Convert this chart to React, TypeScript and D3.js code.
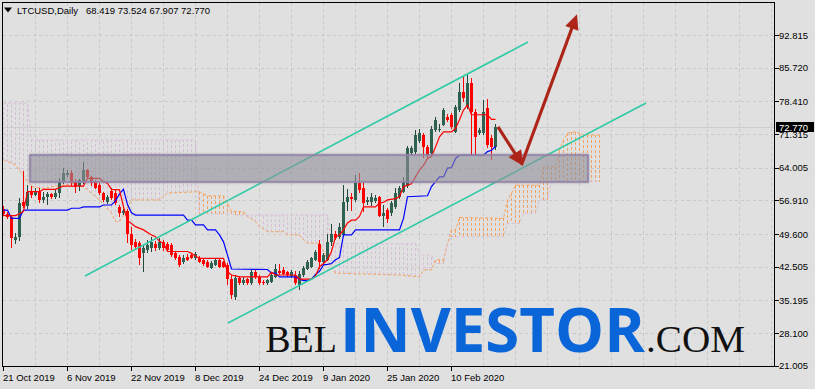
import React from "react";
import * as d3 from "d3";

// ---------- data ----------
const START = "2019-10-21";
const opens = [55.0,54.0,53.3,48.2,48.9,56.6,55.6,59.0,58.1,59.0,56.9,57.6,58.2,57.6,58.5,61.0,62.4,62.8,60.9,60.0,61.2,63.4,61.9,60.8,60.2,58.4,56.6,59.0,58.6,55.5,54.1,54.5,49.7,47.9,47.6,45.4,46.1,46.5,47.4,46.6,47.9,47.4,47.2,45.4,44.7,43.5,44.7,45.0,44.3,44.3,43.9,43.6,42.3,42.9,43.9,43.5,42.9,39.8,36.0,40.0,38.9,39.8,38.9,41.3,40.3,39.2,38.9,39.2,40.3,41.5,41.7,41.3,40.4,40.7,38.5,40.7,42.1,42.5,44.0,47.5,43.6,44.0,47.9,49.7,48.9,49.4,56.6,57.7,57.0,60.6,59.5,56.6,56.6,56.8,57.6,53.6,54.8,54.1,55.5,57.7,58.8,60.0,67.1,67.5,69.7,71.1,68.6,67.1,72.2,72.2,73.3,75.1,75.4,71.8,76.5,80.5,77.2,82.3,76.2,71.5,71.6,77.0,70.4,68.419];
const highs = [55.6,54.4,53.8,49.9,57.5,63.2,60.2,60.0,59.5,59.5,58.7,58.7,58.6,59.4,61.8,64.0,63.5,63.5,61.5,61.5,65.3,63.8,62.2,61.4,60.6,58.8,58.0,59.5,59.2,55.8,55.0,55.0,51.2,48.5,48.0,47.2,48.3,49.0,48.0,48.7,48.2,47.8,47.6,45.8,45.0,45.0,45.2,45.4,45.8,44.8,44.2,43.9,43.8,44.4,44.2,43.8,43.2,40.8,40.7,40.5,40.2,40.1,41.8,41.8,40.8,39.6,39.9,41.0,43.0,43.0,42.5,41.6,41.8,41.5,41.6,42.6,44.0,44.7,46.2,48.4,45.4,49.5,51.7,50.3,52.0,60.2,59.3,58.5,62.4,62.8,61.0,57.6,58.5,58.0,57.9,55.8,55.2,56.8,59.5,60.0,62.0,68.8,68.7,72.2,72.5,71.6,69.0,73.0,75.1,73.5,77.0,75.6,75.8,77.6,82.3,83.8,84.2,83.4,76.8,72.6,78.7,79.0,71.0,73.524];
const lows = [53.6,52.8,46.5,47.5,48.0,55.2,55.0,57.5,57.8,56.3,56.3,56.0,57.2,57.3,57.5,60.5,62.0,60.0,58.5,59.0,60.5,61.5,60.0,59.3,58.0,56.5,56.2,57.0,55.8,53.4,53.8,47.6,46.1,46.3,42.9,41.4,45.4,45.8,46.0,46.2,46.0,45.8,44.6,44.0,42.5,43.0,43.8,44.1,43.9,43.2,42.7,42.2,42.0,42.6,42.2,42.2,38.5,35.5,35.2,38.5,38.6,38.6,38.6,39.8,38.5,38.6,38.6,38.9,40.0,40.8,40.6,40.2,40.1,38.5,37.5,40.3,41.8,42.2,43.7,42.0,43.1,43.7,46.9,48.2,48.5,49.0,54.7,54.5,56.6,58.6,54.3,56.0,55.7,56.4,53.2,51.2,52.0,53.6,55.1,57.3,58.5,59.5,66.5,67.0,69.3,66.0,66.0,66.7,71.8,71.8,73.0,74.0,72.5,71.5,76.2,78.3,76.8,66.8,66.8,71.0,71.0,68.2,65.7,67.907];
const closes = [54.0,53.3,48.7,49.0,56.3,55.6,58.8,58.1,59.0,56.9,57.6,58.2,57.6,58.5,61.0,62.8,62.9,60.7,59.9,61.3,63.4,61.9,60.6,59.7,58.4,57.0,57.6,57.4,56.3,54.1,54.6,49.5,47.2,46.8,44.3,46.5,47.2,47.9,46.5,47.9,46.5,46.1,45.0,44.3,42.9,44.5,44.0,44.5,45.2,43.5,43.0,42.5,43.4,44.0,42.5,42.5,39.8,36.3,40.0,38.9,39.6,38.9,41.4,40.2,39.0,38.9,39.6,40.7,42.1,41.1,41.0,40.6,41.4,38.9,41.0,42.2,43.6,44.3,45.8,43.6,45.0,47.9,49.7,48.7,51.2,56.6,57.7,57.2,60.6,59.1,56.3,57.0,57.7,57.4,53.6,54.2,52.9,56.3,58.4,59.5,61.0,68.2,68.2,71.1,71.5,68.6,66.8,72.5,74.4,72.5,76.5,74.4,72.9,77.2,80.5,79.1,82.3,76.2,70.7,72.2,76.0,69.0,68.42,72.77];

// Ichimoku lines: [bar, price]
const tenkan = [[0,53.6],[3,53.6],[4,54.0],[5,54.5],[6,58.8],[9,58.8],[10,59.3],[13,59.3],[14,59.7],[15,60.0],[20,60.0],[21,61.7],[24,61.7],[25,61.0],[26,60.6],[27,59.3],[29,59.2],[30,55.5],[31,52.5],[32,51.9],[33,51.2],[35,50.5],[37,49.4],[38,49.0],[39,48.0],[40,47.6],[41,45.8],[46,45.8],[47,45.4],[49,44.3],[55,44.3],[56,41.4],[57,40.7],[58,40.5],[59,40.3],[66,40.3],[67,41.3],[68,40.7],[73,40.7],[74,39.8],[77,39.8],[78,40.5],[79,42.5],[80,43.2],[81,44.0],[82,45.8],[83,49.0],[84,49.4],[85,50.5],[86,52.0],[87,52.6],[88,52.6],[89,53.4],[90,55.5],[93,55.5],[94,56.3],[95,56.5],[96,57.0],[98,57.3],[99,57.7],[100,59.9],[102,60.5],[103,62.0],[104,63.5],[105,64.5],[106,66.0],[107,66.4],[108,68.5],[109,70.7],[110,71.8],[112,71.8],[113,72.5],[114,74.4],[115,76.5],[116,77.6],[117,75.5],[121,75.5],[122,74.5],[123,74.5]];
const kijun = [[0,54.8],[1,54.8],[2,53.0],[4,53.0],[5,54.8],[16,54.8],[17,55.2],[19,55.2],[20,55.5],[24,55.5],[25,55.9],[27,55.9],[28,56.8],[29,58.3],[30,59.3],[31,56.0],[32,54.2],[33,53.7],[45,53.7],[46,52.6],[47,52.6],[48,51.6],[50,51.6],[51,50.5],[53,50.5],[54,49.4],[55,47.9],[56,45.0],[57,42.0],[66,41.9],[67,41.1],[68,41.1],[69,40.3],[73,40.3],[74,39.8],[75,39.5],[76,39.5],[77,39.8],[78,40.8],[79,41.5],[80,42.9],[81,43.0],[82,43.2],[83,44.0],[84,44.5],[85,49.4],[87,49.4],[88,50.5],[99,50.5],[100,53.0],[101,57.7],[106,57.9],[107,59.9],[108,61.0],[109,62.0],[110,62.0],[111,63.9],[112,64.0],[113,66.0],[114,66.7],[120,66.7],[121,67.5],[122,67.8],[123,68.6]];
const spanA = [[0,65.7],[3,64.6],[4,63.5],[6,61.0],[7,59.9],[10,59.5],[13,60.0],[18,60.6],[20,59.9],[22,58.4],[24,57.0],[27,54.1],[28,52.3],[29,52.3],[30,53.7],[32,57.0],[39,57.0],[41,58.5],[49,58.8],[51,57.9],[55,57.9],[57,54.5],[60,54.45],[61,53.4],[63,52.3],[64,51.2],[66,50.1],[70,50.1],[71,49.4],[74,49.4],[75,48.3],[76,47.6],[79,47.6],[81,44.0],[83,41.1],[99,40.7],[104,40.3],[105,41.8],[107,41.8],[108,44.0],[110,44.0],[111,47.5],[112,50.5],[113,50.5],[114,53.2],[125,53.0],[126,57.0],[127,58.4],[128,60.2],[134,60.2],[135,64.2],[138,64.2],[139,67.8],[140,70.0],[141,71.5],[143,71.8],[145,71.1],[149,71.1]];
const spanB = [[0,78.0],[6,78.0],[7,70.0],[48,70.0],[49,54.0],[57,54.0],[58,53.7],[81,53.7],[82,47.5],[102,47.5],[103,47.6],[104,45.0],[107,45.0],[108,43.2],[110,43.2],[111,47.6],[112,49.0],[125,49.0],[126,51.9],[129,51.9],[130,54.1],[133,54.1],[134,57.0],[136,57.0],[137,61.0],[149,61.0]];

const priceTicks = [92.815, 85.72, 78.41, 71.315, 64.005, 56.91, 49.6, 42.505, 35.195, 28.1, 21.005];
const priceTickLabels = ["92.815","85.720","78.410","71.315","64.005","56.910","49.600","42.505","35.195","28.100","21.005"];
const dateTicks = ["2019-10-21","2019-11-06","2019-11-22","2019-12-08","2019-12-24","2020-01-09","2020-01-25","2020-02-10"];
const dateTickLabels = ["21 Oct 2019","6 Nov 2019","22 Nov 2019","8 Dec 2019","24 Dec 2019","9 Jan 2020","25 Jan 2020","10 Feb 2020"];
const symbolLabel = "LTCUSD,Daily";
const lastBarValues = ["68.419","73.524","67.907","72.770"];
const lastPrice = 72.77;
const lastPriceLabel = "72.770";

// annotations in [bar, price]
const zoneBars = [6.75, 146.25];
const zonePrices = [60.9, 66.76];
const channelUpper = [[20.5, 40.5], [131.25, 91.3]];
const channelLower = [[56.25, 30.27], [160.75, 78.05]];
const arrowDown = [[123.75, 72.84], [130, 64.4]];
const arrowUp = [[129.6, 64.6], [143.5, 97.3]];

const watermark = ["BEL", "INVESTOR", ".COM"];

function arrow(p0: number[], p1: number[], headLen: number, headHalf: number) {
  const dx = p1[0] - p0[0], dy = p1[1] - p0[1];
  const len = Math.hypot(dx, dy);
  const ux = dx / len, uy = dy / len;
  const bx = p1[0] - ux * headLen, by = p1[1] - uy * headLen;
  const px = -uy, py = ux;
  return {
    shaft: [p0[0], p0[1], bx + ux * 2, by + uy * 2],
    head: `M${p1[0]},${p1[1]}L${bx + px * headHalf},${by + py * headHalf}L${bx - px * headHalf},${by - py * headHalf}Z`,
  };
}

export default function App() {
  const W = 815, H = 389;
  const L = 2.5, R = 774.5, T = 2.5, B = 366.5;
  const x = d3.scaleLinear().domain([0, 1]).range([3, 7]);
  const y = d3.scaleLinear().domain([21.005, 92.815]).range([365.7, 35]);
  const parse = d3.timeParse("%Y-%m-%d");
  const start = parse(START)!;
  const tickBars = dateTicks.map((d) => d3.timeDay.count(start, parse(d)!));

  const font = "'Liberation Sans', Arial, sans-serif";
  const lineGen = d3.line<number[]>().x((d) => x(d[0]) + 0.5).y((d) => y(d[1]));

  const aScale = d3.scaleLinear().domain(spanA.map((d) => d[0])).range(spanA.map((d) => d[1]));
  const bScale = d3.scaleLinear().domain(spanB.map((d) => d[0])).range(spanB.map((d) => d[1]));
  const cloudBars = d3.range(0, spanA[spanA.length - 1][0] + 1);

  const vGrid = d3.range(8, 200, 8).map((b) => x(b)).filter((v) => v < R - 2);

  const px = (p: number[]) => [x(p[0]), y(p[1])];
  const aDown = arrow(px(arrowDown[0]), px(arrowDown[1]), 15, 7.5);
  const aUp = arrow(px(arrowUp[0]), px(arrowUp[1]), 15, 7);

  const bull = "#2f6150";
  const bullWick = "#24463b";
  const bear = "#ff0000";
  const arrowColor = "#ad2519";
  const yLast = Math.round(y(lastPrice));

  return (
    <svg width={W} height={H} style={{ position: "absolute", left: 0, top: 0, display: "block" }}>
      <defs>
        <clipPath id="plot">
          <rect x={L + 0.5} y={T + 0.5} width={R - L - 1} height={B - T - 1} />
        </clipPath>
        <filter id="shadow" x="-5%" y="-30%" width="110%" height="160%">
          <feDropShadow dx="0" dy="0" stdDeviation="1.2" floodColor="#606060" floodOpacity="0.6" />
        </filter>
      </defs>
      <rect x={0} y={0} width={W} height={H} fill="#e0e0e0" />
      <g clipPath="url(#plot)">
        {priceTicks.map((p, i) => (
          <line key={"hg" + i} x1={L} x2={R} y1={Math.round(y(p)) + 0.5} y2={Math.round(y(p)) + 0.5}
            stroke="#c9c9c9" strokeDasharray="3,3" shapeRendering="crispEdges" />
        ))}
        {vGrid.map((v, i) => (
          <line key={"vg" + i} x1={v + 0.5} x2={v + 0.5} y1={T} y2={B}
            stroke="#c9c9c9" strokeDasharray="3,3" shapeRendering="crispEdges" />
        ))}
        <line x1={L} x2={R} y1={yLast + 0.5} y2={yLast + 0.5} stroke="#cdcdcd" shapeRendering="crispEdges" />
        {cloudBars.map((b) => {
          const a = aScale(b), bb = bScale(b);
          return (
            <line key={"c" + b} x1={x(b) + 0.5} x2={x(b) + 0.5} y1={y(a)} y2={y(bb)}
              stroke={a >= bb ? "#f4a460" : "#d8bfd8"} strokeDasharray="3,2" shapeRendering="crispEdges" />
          );
        })}
        <path d={lineGen(spanA) || ""} fill="none" stroke="#f4a460" strokeDasharray="3,2" />
        <path d={lineGen(spanB) || ""} fill="none" stroke="#d8bfd8" strokeDasharray="3,2" />
        {opens.map((o, i) => {
          const c = closes[i];
          const up = c >= o;
          const cx = Math.round(x(i));
          const top = y(Math.max(o, c));
          const h = Math.max(1, y(Math.min(o, c)) - top);
          return (
            <g key={"k" + i} shapeRendering="crispEdges">
              <line x1={cx + 0.5} x2={cx + 0.5} y1={y(highs[i])} y2={y(lows[i])} stroke={up ? bullWick : bear} />
              <rect x={cx - 1} y={top} width={3} height={h} fill={up ? bull : bear} />
            </g>
          );
        })}
        <path d={lineGen(kijun) || ""} fill="none" stroke="#0000ff" strokeWidth={1.2} />
        <path d={lineGen(tenkan) || ""} fill="none" stroke="#ff0000" strokeWidth={1.2} />
        {[channelUpper, channelLower].map((ch, i) => (
          <line key={"ch" + i} x1={x(ch[0][0])} y1={y(ch[0][1])} x2={x(ch[1][0])} y2={y(ch[1][1])}
            stroke="#2fcaa6" strokeWidth={1.6} />
        ))}
        <rect x={x(zoneBars[0])} y={y(zonePrices[1])} width={x(zoneBars[1]) - x(zoneBars[0])}
          height={y(zonePrices[0]) - y(zonePrices[1])} fill="#9c9ca6" fillOpacity={0.45}
          stroke="#9482ac" strokeWidth={1.5} filter="url(#shadow)" />
        {[aDown, aUp].map((a, i) => (
          <g key={"ar" + i}>
            <line x1={a.shaft[0]} y1={a.shaft[1]} x2={a.shaft[2]} y2={a.shaft[3]} stroke={arrowColor} strokeWidth={3.2} />
            <path d={a.head} fill={arrowColor} />
          </g>
        ))}
      </g>
      <text x={337} y={352} textAnchor="end" fontFamily="'Liberation Serif', 'Times New Roman', serif" fontSize={38} fill="#111">{watermark[0]}</text>
      <text x={340} y={352} fontFamily="'Open Sans', sans-serif" fontWeight={700} fontSize={61} fill="#0a66d8"
        textLength={305} lengthAdjust="spacingAndGlyphs">{watermark[1]}</text>
      <text x={646} y={352} fontFamily="'Liberation Serif', 'Times New Roman', serif" fontSize={38} fill="#111"
        textLength={99} lengthAdjust="spacingAndGlyphs">{watermark[2]}</text>
      <rect x={L} y={T} width={R - L} height={B - T} fill="none" stroke="#000" shapeRendering="crispEdges" />
      {priceTicks.map((p, i) => (
        <g key={"yt" + i}>
          <line x1={R} x2={R + 4} y1={Math.round(y(p)) + 0.5} y2={Math.round(y(p)) + 0.5} stroke="#000" shapeRendering="crispEdges" />
          <text x={779} y={y(p) + 3.5} fontFamily={font} fontSize={9.5} fill="#000">{priceTickLabels[i]}</text>
        </g>
      ))}
      <rect x={776} y={yLast - 5} width={38} height={10} fill="#000" />
      <text x={779} y={yLast + 3.5} fontFamily={font} fontSize={9.5} fill="#fff">{lastPriceLabel}</text>
      {tickBars.map((b, i) => (
        <g key={"xt" + i}>
          <line x1={Math.round(x(b)) + 0.5} x2={Math.round(x(b)) + 0.5} y1={B} y2={B + 4} stroke="#000" shapeRendering="crispEdges" />
          <text x={x(b)} y={381} fontFamily={font} fontSize={9.5} fill="#000">{dateTickLabels[i]}</text>
        </g>
      ))}
      <path d="M4,7.5L12,7.5L8,12.5Z" fill="#000" />
      <text x={17} y={14} fontFamily={font} fontSize={9.5} fill="#000">{symbolLabel}</text>
      <text x={86} y={14} fontFamily={font} fontSize={9.5} fill="#000">{lastBarValues.join(" ")}</text>
    </svg>
  );
}
